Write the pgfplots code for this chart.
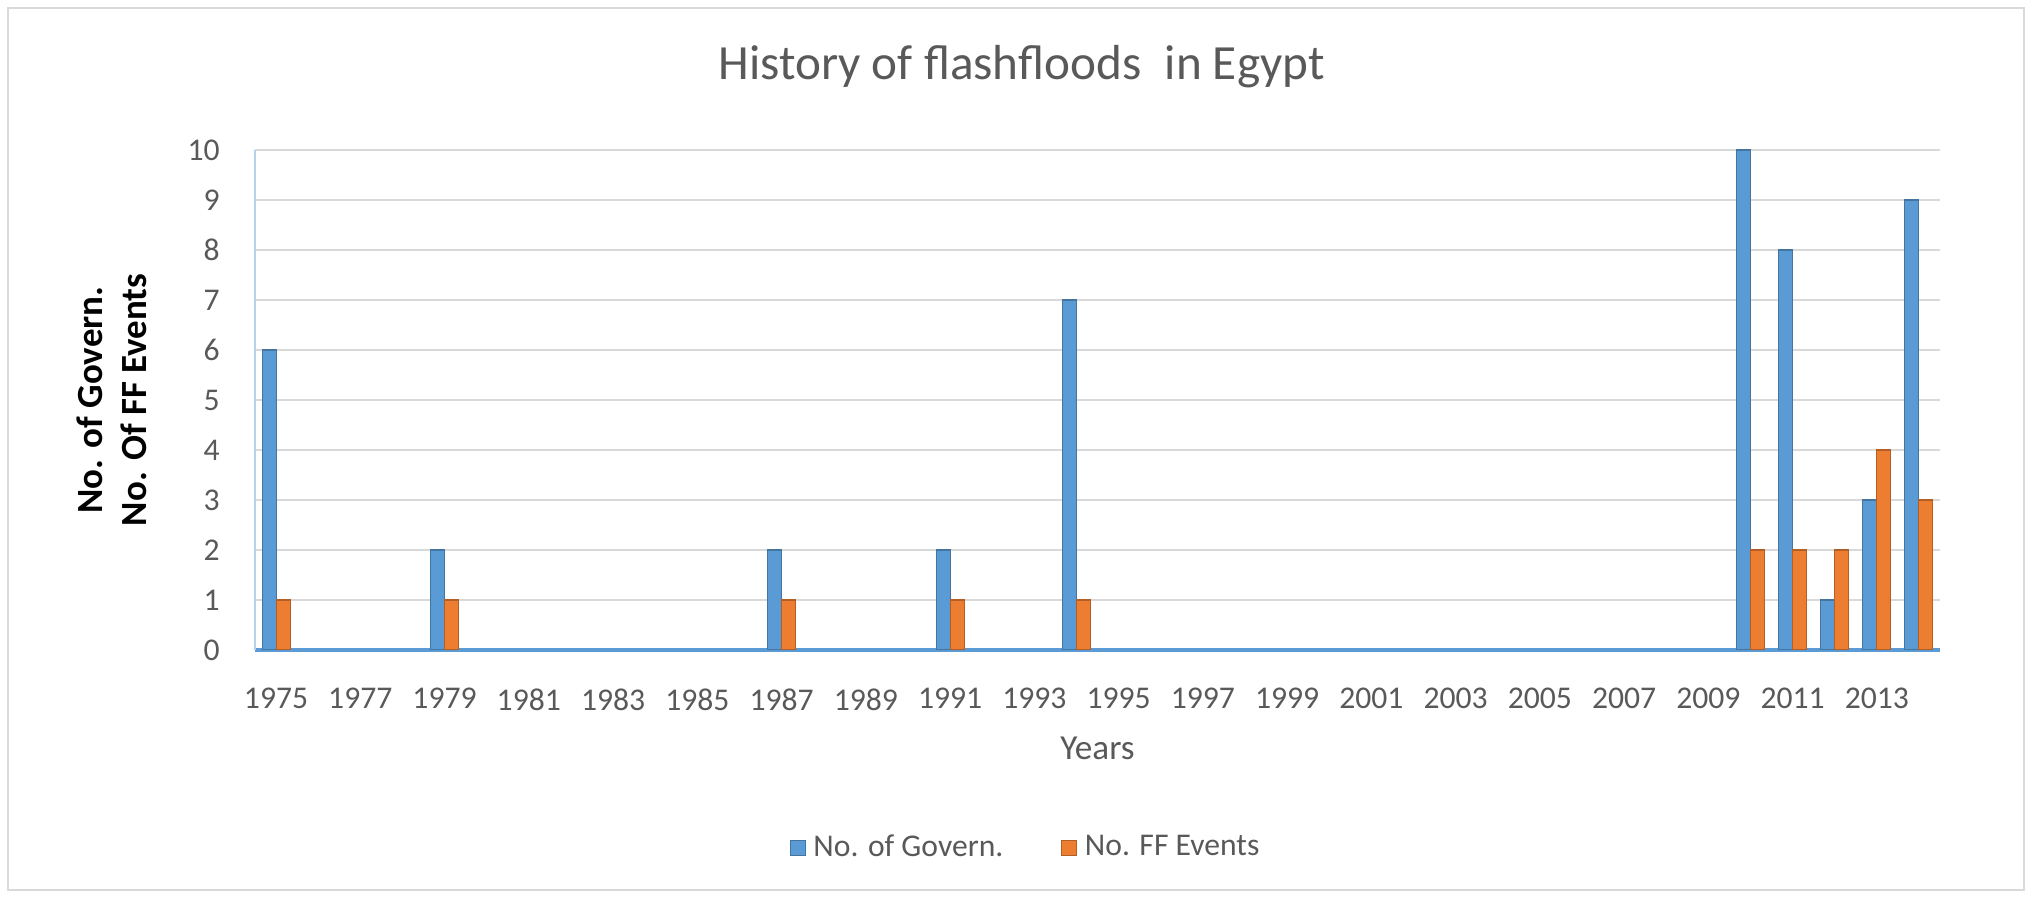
\documentclass[border=0pt]{standalone}
\usepackage{fontspec}
\setmainfont{Carlito}
\usepackage{pgfplots}
\pgfplotsset{compat=1.18}

\definecolor{govblue}{HTML}{5B9BD5}
\definecolor{fforange}{HTML}{ED7D31}
\definecolor{txtgray}{HTML}{595959}
\definecolor{gridgray}{HTML}{D9D9D9}

\begin{document}
\begin{tikzpicture}
\useasboundingbox (0,0) rectangle (20.32cm,8.98cm);
\draw[gray!30, line width=0.6pt] (0.08cm,0.08cm) rectangle (20.24cm,8.90cm);
\begin{axis}[
    at={(2.55cm,2.48cm)}, anchor=south west,
    scale only axis,
    width=16.85cm, height=5cm,
    ybar=0pt, bar width=1.4mm,
    xmin=-0.5, xmax=39.5,
    ymin=0, ymax=10,
    ytick={0,1,...,10},
    xtick={0,2,...,38},
    xticklabels={1975,1977,1979,1981,1983,1985,1987,1989,1991,1993,
                 1995,1997,1999,2001,2003,2005,2007,2009,2011,2013},
    axis x line*=bottom, axis y line*=left,
    x axis line style={draw=govblue, line width=1.1pt},
    y axis line style={draw=govblue!45, line width=0.6pt},
    major tick length=0pt,
    ymajorgrids,
    grid style={gridgray, line width=0.8pt},
    /pgf/number format/assume math mode=true,
    tick label style={font=\fontsize{9}{11}\selectfont, text=txtgray},
    xticklabel style={yshift=-2.6mm},
    yticklabel style={xshift=-2.3mm},
    title={History of flashfloods\hspace{0.25em} in Egypt},
    title style={at={(axis description cs:0.455,1.125)}, anchor=center,
                 font=\fontsize{14}{17}\selectfont, text=txtgray},
    xlabel={Years},
    xlabel style={at={(axis description cs:0.5,-0.196)}, anchor=center,
                  font=\fontsize{10}{12}\selectfont, text=txtgray},
    ylabel={No. of Govern.\\No. Of FF Events},
    ylabel style={at={(axis description cs:-0.085,0.5)}, anchor=center,
                  align=center, font=\bfseries\fontsize{10.5}{12.6}\selectfont},
    legend style={at={(axis description cs:0.459,-0.396)}, anchor=center,
                  draw=none, legend columns=2,
                  font=\fontsize{9}{11}\selectfont, text=txtgray,
                  nodes={inner xsep=2.2pt},
                  /tikz/every even column/.append style={column sep=5mm}},
    legend image code/.code={\fill[#1] (0mm,-0.75mm) rectangle (1.5mm,0.75mm);},
]
% index 0 = 1975 ... index 39 = 2014
\addplot[fill=govblue, draw=govblue!75!black, line width=0.3pt] coordinates {
    (0,6) (4,2) (12,2) (16,2) (19,7) (35,10) (36,8) (37,1) (38,3) (39,9)
};
\addlegendentry{No. of Govern.}
\addplot[fill=fforange, draw=fforange!75!black, line width=0.3pt] coordinates {
    (0,1) (4,1) (12,1) (16,1) (19,1) (35,2) (36,2) (37,2) (38,4) (39,3)
};
\addlegendentry{No. FF Events}
\end{axis}
\end{tikzpicture}
\end{document}
